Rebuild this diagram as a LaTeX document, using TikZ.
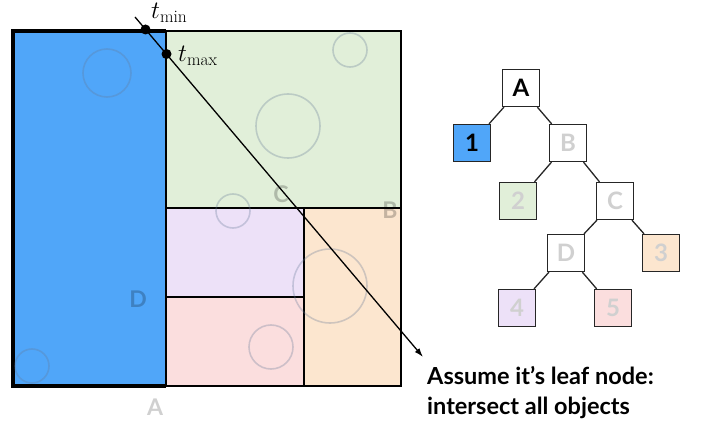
\RequirePackage{fix-cm}
\documentclass[tikz,border=0pt]{standalone}
\usepackage{fontspec}
\setsansfont{Lato}
\usetikzlibrary{arrows.meta}
\definecolor{cblue}{RGB}{80,166,249}
\definecolor{cgreen}{RGB}{225,239,217}
\definecolor{cpurple}{RGB}{237,225,248}
\definecolor{cpink}{RGB}{251,222,222}
\definecolor{corange}{RGB}{252,230,207}
\definecolor{ccirc}{RGB}{100,120,150}
\definecolor{clabel}{RGB}{208,208,208}
\tikzset{
  region/.style={draw=black, line width=1.2pt},
  obj/.style={draw=ccirc, draw opacity=0.3, line width=1.6pt},
  rlabel/.style={text=black, text opacity=0.22, font=\sffamily\bfseries\fontsize{23}{23}\selectfont, inner sep=0pt},
  tbox/.style={draw=black!85, line width=1.3pt, minimum size=37pt, inner sep=0pt, text=clabel, font=\sffamily\bfseries\fontsize{24}{24}\selectfont},
  tedge/.style={draw=black!85, line width=1.3pt},
  ray/.style={draw=black, line width=1.3pt, -{Latex[length=9pt,width=6pt]}},
  hit/.style={circle, fill=black, inner sep=0pt, minimum size=10pt},
  tlabel/.style={anchor=base west, inner sep=0pt, font=\fontsize{25}{30}\selectfont}
}
\begin{document}
\begin{tikzpicture}[x=1pt,y=-1pt]
\useasboundingbox (0,0) rectangle (710,433);
% regions
\fill[cblue] (13,31) rectangle (166,386);
\draw[region, fill=cgreen] (166,31) rectangle (401,208);
\draw[region, fill=cpurple] (166,208) rectangle (304,297);
\draw[region, fill=cpink] (166,297) rectangle (304,386);
\draw[region, fill=corange] (304,208) rectangle (401,386);
\draw[line width=1.2pt] (166,31) -- (166,386);
\draw[line width=3.5pt, line join=miter] (166,386) -- (13,386) -- (13,31) -- (166,31);
% objects
\draw[obj] (107,73) circle (24);
\draw[obj] (32,366) circle (17);
\draw[obj] (350,50) circle (17);
\draw[obj] (288,126) circle (32);
\draw[obj] (233,211) circle (17);
\draw[obj] (330,286) circle (37);
\draw[obj] (271,347) circle (22);
% region labels
\node[rlabel] (lC) at (281,194) {C};
\node[rlabel] (lB) at (390,210) {B};
\node[rlabel] (lD) at (138,299) {D};
\node[rlabel, text=clabel, text opacity=1] (lA) at (155,407) {A};
% ray
\coordinate (rs) at (135,17);
\coordinate (re) at (423,357);
\draw[ray] (rs) -- (re);
\node[hit] (tmin) at (145.5,29.5) {};
\node[hit] (tmax) at (166.5,54) {};
\node[tlabel] (ltmin) at (151,19) {$t_{\min}$};
\node[tlabel] (ltmax) at (178,62) {$t_{\max}$};
% tree
\node[tbox, fill=white, text=black] (tA) at (521,88) {A};
\node[tbox, fill=cblue, text=black] (t1) at (472,143) {1};
\node[tbox, fill=white] (tB) at (568,143) {B};
\node[tbox, fill=cgreen] (t2) at (518,201) {2};
\node[tbox, fill=white] (tC) at (615,201) {C};
\node[tbox, fill=white] (tD) at (566,253) {D};
\node[tbox, fill=corange] (t3) at (661,253) {3};
\node[tbox, fill=cpurple] (t4) at (517,308) {4};
\node[tbox, fill=cpink] (t5) at (613,308) {5};
\draw[tedge] (tA) -- (t1);
\draw[tedge] (tA) -- (tB);
\draw[tedge] (tB) -- (t2);
\draw[tedge] (tB) -- (tC);
\draw[tedge] (tC) -- (tD);
\draw[tedge] (tC) -- (t3);
\draw[tedge] (tD) -- (t4);
\draw[tedge] (tD) -- (t5);
% note
\node[anchor=base west, align=left, inner sep=0pt, font=\sffamily\bfseries\fontsize{23.5}{30}\selectfont] (note) at (427,414) {Assume it’s leaf node:\\intersect all objects};
\end{tikzpicture}
\end{document}
